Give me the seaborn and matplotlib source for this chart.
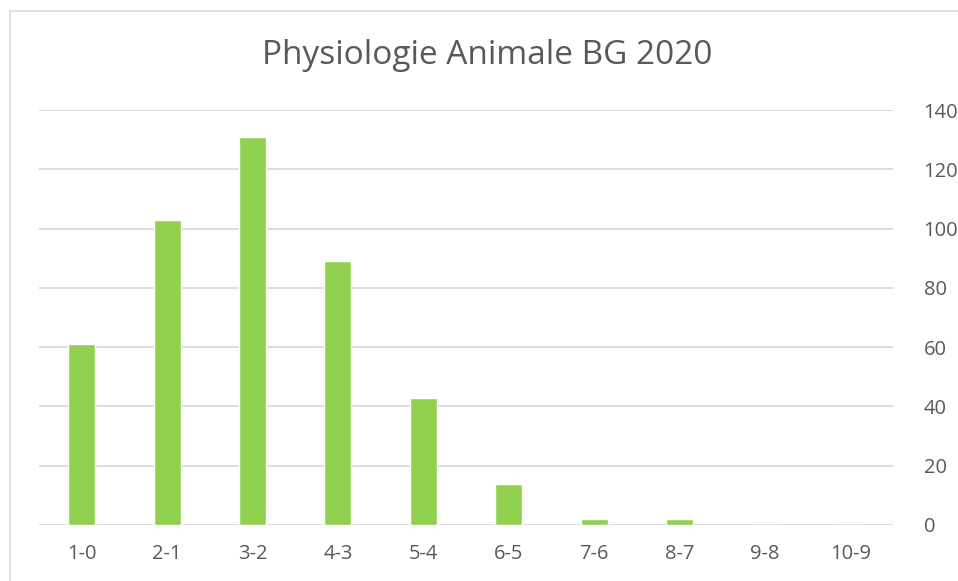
import matplotlib
matplotlib.use("Agg")
import matplotlib.pyplot as plt
import seaborn as sns
import pandas as pd
from matplotlib.patches import Rectangle

categories = ["1-0", "2-1", "3-2", "4-3", "5-4", "6-5", "7-6", "8-7", "9-8", "10-9"]
counts = [61, 103, 131, 89, 43, 14, 2, 2, 0, 0]
y_ticks = [0, 20, 40, 60, 80, 100, 120, 140]

sns.set_theme(style="white")
plt.rcParams['font.family'] = ['Open Sans', 'DejaVu Sans']

text_col = "#595959"
grid_col = "#D9D9D9"

fig = plt.figure(figsize=(9.58, 5.81), dpi=100)
ax = fig.add_axes([39/958, 1-525/581, (893-39)/958, (525-110)/581])

df = pd.DataFrame({"cat": categories, "n": counts})
sns.barplot(data=df, x="cat", y="n", color="#92D050", width=0.316, saturation=1,
            ax=ax, zorder=3)

ax.set_xlim(-0.5, len(categories) - 0.5)
ax.set_ylim(0, 140)
ax.set_yticks(y_ticks)
ax.yaxis.tick_right()
ax.grid(axis="y", color=grid_col, linewidth=1.3, zorder=0)
ax.set_axisbelow(True)
for s in ax.spines.values():
    s.set_visible(False)
ax.tick_params(axis="both", length=0, labelsize=14.5, colors=text_col)
ax.tick_params(axis="y", pad=22)
ax.tick_params(axis="x", pad=14)
ax.set_xlabel("")
ax.set_ylabel("")

fig.text(487/958, 1-55/581, "Physiologie Animale BG 2020", ha="center", va="center",
         fontsize=24, color=text_col)

fig.patches.append(Rectangle((10/958, -0.1), 1.2, 1.1 - 11/581, transform=fig.transFigure,
                             fill=False, edgecolor=grid_col, linewidth=1.2))

fig.savefig("out.png", dpi=100)
